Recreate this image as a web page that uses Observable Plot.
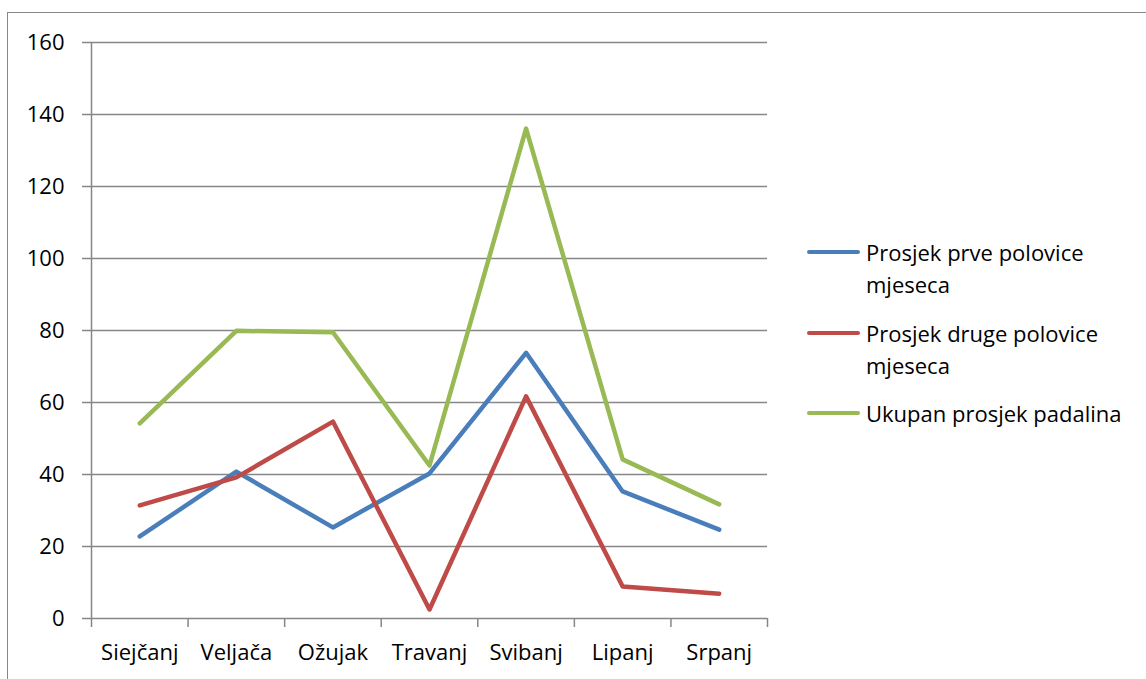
<!DOCTYPE html>
<html>
<head>
<meta charset="utf-8">
<script src="https://cdn.jsdelivr.net/npm/d3@7"></script>
<script src="https://cdn.jsdelivr.net/npm/@observablehq/plot@0.6"></script>
<style>
  body { margin: 0; background: #fff; font-family: "Open Sans", Lato, sans-serif; }
  #wrap { position: relative; width: 1146px; height: 679px; overflow: hidden; background: #fff; }
  #frame { position: absolute; left: 7px; top: 12px; width: 1300px; height: 800px; border: 1.5px solid #878787; box-sizing: border-box; }
  #chart { position: absolute; left: 0; top: 0; }
  .sw { position: absolute; left: 807px; width: 53px; height: 4.5px; border-radius: 2.5px; }
  .lt { position: absolute; left: 866px; width: 270px; font-size: 22px; line-height: 32px; color: #000; }
</style>
</head>
<body>
<div id="wrap">
  <div id="frame"></div>
  <div id="chart"></div>
  <div id="legend"></div>
</div>
<script>
const months = ["Siejčanj", "Veljača", "Ožujak", "Travanj", "Svibanj", "Lipanj", "Srpanj"];
const seriesNames = ["Prosjek prve polovice mjeseca", "Prosjek druge polovice mjeseca", "Ukupan prosjek padalina"];
const prvaPolovica = [22.8, 40.8, 25.3, 40.3, 73.8, 35.3, 24.7];
const drugaPolovica = [31.4, 39.2, 54.7, 2.5, 61.7, 8.9, 6.9];
const ukupno = [54.2, 79.9, 79.5, 42.5, 136.1, 44.2, 31.7];
const yTicks = [0, 20, 40, 60, 80, 100, 120, 140, 160];
const colors = ["#4A7EBB", "#BE4B48", "#98B954"];

const seriesValues = [prvaPolovica, drugaPolovica, ukupno];
const rows = seriesValues.flatMap((vals, s) =>
  vals.map((v, i) => ({ series: seriesNames[s], month: months[i], idx: i, value: v }))
);

const grid = "#878787";
const chart = Plot.plot({
  width: 1146,
  height: 679,
  marginLeft: 91,
  marginRight: 379,
  marginTop: 42,
  marginBottom: 61,
  style: { fontFamily: "'Open Sans', Lato, sans-serif", fontSize: "22px", color: "#000", background: "transparent", overflow: "visible" },
  x: { type: "linear", domain: [0, months.length], label: null },
  y: { domain: [0, 160], label: null },
  color: { domain: seriesNames, range: colors },
  marks: [
    Plot.gridY(yTicks, { stroke: grid, strokeOpacity: 1, strokeWidth: 1.5 }),
    Plot.ruleX([0], { stroke: grid, strokeWidth: 1.5 }),
    Plot.axisY(yTicks, { label: null, tickSize: 9, tickPadding: 18, stroke: grid, strokeWidth: 1.5, fill: "#000", tickFormat: d => String(d) }),
    Plot.axisX(d3.range(months.length + 1), { label: null, tickSize: 9, stroke: grid, strokeWidth: 1.5, tickFormat: () => "" }),
    Plot.axisX(d3.range(months.length).map(i => i + 0.5), { label: null, tickSize: 0, tickPadding: 26, fill: "#000", tickFormat: v => months[Math.floor(v)] }),
    Plot.line(rows, {
      x: d => d.idx + 0.5,
      y: "value",
      z: "series",
      stroke: "series",
      strokeWidth: 4.5,
      strokeLinecap: "round",
      strokeLinejoin: "round"
    })
  ]
});
document.getElementById("chart").appendChild(chart);

const legendTops = [236, 317, 397];
const legendLines = [252, 333, 413];
const legend = document.getElementById("legend");
seriesNames.forEach((name, i) => {
  const sw = document.createElement("div");
  sw.className = "sw";
  sw.style.top = (legendLines[i] - 2.25) + "px";
  sw.style.background = colors[i];
  legend.appendChild(sw);
  const t = document.createElement("div");
  t.className = "lt";
  t.style.top = legendTops[i] + "px";
  t.textContent = name;
  legend.appendChild(t);
});
</script>
</body>
</html>
